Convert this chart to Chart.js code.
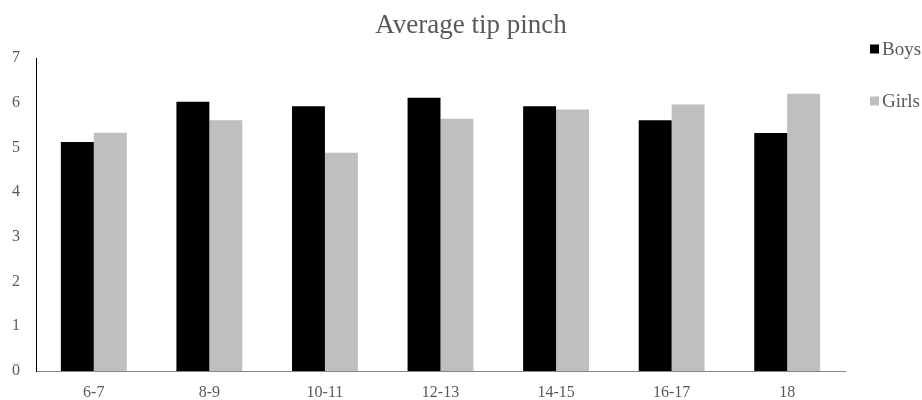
<!DOCTYPE html>
<html>
<head>
<meta charset="utf-8">
<script src="https://cdn.jsdelivr.net/npm/chart.js@4"></script>
<style>
    html, body { margin: 0; padding: 0; background: #fff; }
    #wrap { width: 922px; height: 400px; }
</style>
</head>
<body>
<div id="wrap"><canvas id="tipChart"></canvas></div>
<script>
const ageGroups = ['6-7', '8-9', '10-11', '12-13', '14-15', '16-17', '18'];
const boysValues = [5.12, 6.02, 5.92, 6.11, 5.92, 5.61, 5.32];
const girlsValues = [5.33, 5.61, 4.88, 5.64, 5.85, 5.96, 6.2];
const yMin = 0;
const yMax = 7;
const yStep = 1;

const serif = '"Liberation Serif", "Times New Roman", serif';
const textGray = '#595959';

// 凡例は右上に縦並びで自前で描く
const sideLegend = {
    id: 'sideLegend',
    afterLayout(chart) {
        // タイトルは少し右寄り（凡例込みの幅の中央）
        chart.titleBlock.left = 20;
    },
    afterDraw(chart) {
        const ctx = chart.ctx;
        const rows = [49, 101];
        ctx.save();
        ctx.font = '19px ' + serif;
        ctx.textBaseline = 'middle';
        ctx.textAlign = 'left';
        chart.data.datasets.forEach((ds, i) => {
            const y = rows[i];
            ctx.fillStyle = ds.backgroundColor;
            ctx.fillRect(870, y - 4.5, 9, 9);
            ctx.fillStyle = textGray;
            ctx.fillText(ds.label, 882, y + 1);
        });
        ctx.restore();
    }
};

const ctx = document.getElementById('tipChart').getContext('2d');
new Chart(ctx, {
    type: 'bar',
    data: {
        labels: ageGroups,
        datasets: [
            { label: 'Boys', data: boysValues, backgroundColor: '#000000' },
            { label: 'Girls', data: girlsValues, backgroundColor: '#bfbfbf' }
        ]
    },
    options: {
        responsive: true,
        maintainAspectRatio: false,
        animation: false,
        layout: { padding: 0 },
        datasets: {
            bar: { categoryPercentage: 0.57, barPercentage: 1.0 }
        },
        scales: {
            x: {
                afterFit: (scale) => { scale.height = 29; },
                grid: { display: false, drawTicks: false },
                border: { display: true, color: '#868686', width: 1 },
                ticks: {
                    color: textGray,
                    padding: 14,
                    font: { family: serif, size: 16, lineHeight: 1 }
                }
            },
            y: {
                min: yMin,
                max: yMax,
                afterFit: (scale) => { scale.width = 36; },
                grid: { display: false, drawTicks: false },
                border: { display: true, color: '#000000', width: 1 },
                ticks: {
                    stepSize: yStep,
                    color: textGray,
                    padding: 16,
                    font: { family: serif, size: 16 }
                }
            },
            legendSpace: {
                type: 'linear',
                position: 'right',
                display: true,
                afterFit: (scale) => { scale.width = 77; },
                grid: { display: false, drawTicks: false },
                border: { display: false },
                ticks: { display: false }
            }
        },
        plugins: {
            legend: { display: false },
            tooltip: { enabled: false },
            title: {
                display: true,
                text: 'Average tip pinch',
                color: textGray,
                font: { family: serif, size: 27, weight: 'normal', lineHeight: 1.2 },
                padding: { top: 10, bottom: 15.6 }
            }
        }
    },
    plugins: [sideLegend]
});
</script>
</body>
</html>
